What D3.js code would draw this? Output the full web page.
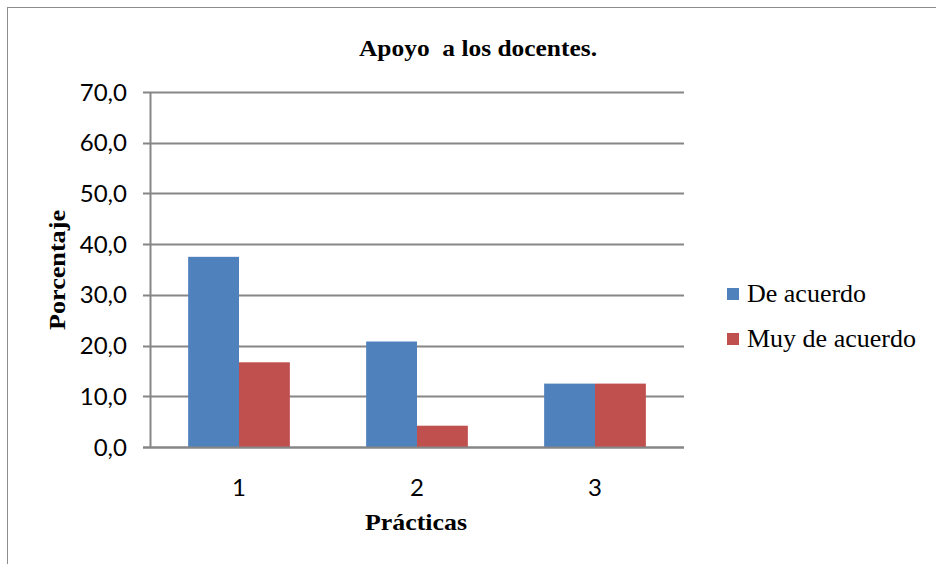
<!DOCTYPE html>
<html>
<head>
<meta charset="utf-8">
<script src="https://cdn.jsdelivr.net/npm/d3@7/dist/d3.min.js"></script>
<style>
  html, body { margin: 0; padding: 0; background: #fff; }
  svg { display: block; }
</style>
</head>
<body>
<script>
// Chart data
const categories = ["1", "2", "3"];
const seriesNames = ["De acuerdo", "Muy de acuerdo"];
const deAcuerdo = [37.5, 20.8, 12.5];
const muyDeAcuerdo = [16.7, 4.2, 12.5];
const yTicks = [0, 10, 20, 30, 40, 50, 60, 70];
const colors = ["#4F81BD", "#C0504D"];

const W = 936, H = 564;
const svg = d3.select("body").append("svg").attr("width", W).attr("height", H);

// Outer chart frame
svg.append("rect")
  .attr("x", 7.5).attr("y", 7.5)
  .attr("width", 960).attr("height", 600)
  .attr("fill", "#fff").attr("stroke", "#8c8c8c").attr("stroke-width", 1);

const plot = { left: 150, right: 684, top: 92, bottom: 447 };

const x0 = d3.scaleBand().domain(categories).range([plot.left, plot.right]).padding(0);
const x1 = d3.scaleBand().domain(seriesNames).range([0, x0.bandwidth()])
  .paddingInner(0).paddingOuter(0.75);
const y = d3.scaleLinear().domain([0, 70]).range([plot.bottom, plot.top]);

const fmt = v => d3.format(".1f")(v).replace(".", ",");
const gridColor = "#868686";

// Horizontal gridlines with left tick marks
svg.append("g").selectAll("line").data(yTicks).join("line")
  .attr("x1", plot.left - 7).attr("x2", plot.right)
  .attr("y1", d => Math.round(y(d)) + 0.5).attr("y2", d => Math.round(y(d)) + 0.5)
  .attr("stroke", gridColor).attr("stroke-width", 2);

// Bars
const rows = categories.map((c, i) => ({ cat: c, vals: [deAcuerdo[i], muyDeAcuerdo[i]] }));
const groups = svg.append("g").selectAll("g").data(rows).join("g")
  .attr("transform", d => `translate(${x0(d.cat)},0)`);
groups.selectAll("rect").data(d => d.vals.map((v, j) => ({ v, j }))).join("rect")
  .attr("x", d => x1(seriesNames[d.j]))
  .attr("width", x1.bandwidth())
  .attr("y", d => y(d.v))
  .attr("height", d => y(0) - y(d.v))
  .attr("fill", d => colors[d.j]);

// Axis lines
svg.append("line")
  .attr("x1", plot.left + 0.5).attr("x2", plot.left + 0.5)
  .attr("y1", plot.top).attr("y2", plot.bottom + 1)
  .attr("stroke", gridColor).attr("stroke-width", 2);
svg.append("line")
  .attr("x1", plot.left - 7).attr("x2", plot.right)
  .attr("y1", Math.round(y(0)) + 0.5).attr("y2", Math.round(y(0)) + 0.5)
  .attr("stroke", gridColor).attr("stroke-width", 2);

// Y tick labels
svg.append("g").selectAll("text").data(yTicks).join("text")
  .attr("x", 127).attr("y", d => y(d))
  .attr("dy", "0.36em")
  .attr("text-anchor", "end")
  .attr("font-family", "Lato, 'Open Sans', sans-serif")
  .attr("font-size", 24)
  .attr("fill", "#000")
  .text(fmt);

// Category labels
svg.append("g").selectAll("text").data(categories).join("text")
  .attr("x", d => x0(d) + x0.bandwidth() / 2).attr("y", 487)
  .attr("dy", "0.36em")
  .attr("text-anchor", "middle")
  .attr("font-family", "Lato, 'Open Sans', sans-serif")
  .attr("font-size", 24)
  .attr("fill", "#000")
  .text(d => d);

const serif = "'Liberation Serif', 'Times New Roman', serif";

// Title
svg.append("text")
  .attr("x", 478).attr("y", 56)
  .attr("text-anchor", "middle")
  .attr("font-family", serif).attr("font-weight", "bold").attr("font-size", 24)
  .attr("textLength", 238).attr("lengthAdjust", "spacingAndGlyphs")
  .style("white-space", "pre")
  .text("Apoyo  a los docentes.");

// Axis titles
svg.append("text")
  .attr("transform", "translate(65,270) rotate(-90)")
  .attr("text-anchor", "middle")
  .attr("font-family", serif).attr("font-weight", "bold").attr("font-size", 24)
  .attr("textLength", 120).attr("lengthAdjust", "spacingAndGlyphs")
  .text("Porcentaje");

svg.append("text")
  .attr("x", 416).attr("y", 530)
  .attr("text-anchor", "middle")
  .attr("font-family", serif).attr("font-weight", "bold").attr("font-size", 24)
  .attr("textLength", 102).attr("lengthAdjust", "spacingAndGlyphs")
  .text("Prácticas");

// Legend
const legend = svg.append("g").selectAll("g").data(seriesNames).join("g")
  .attr("transform", (d, i) => `translate(727,${294 + i * 45})`);
legend.append("rect")
  .attr("x", 0).attr("y", -6).attr("width", 12).attr("height", 12)
  .attr("fill", (d, i) => colors[i]);
legend.append("text")
  .attr("x", 20).attr("y", 8)
  .attr("font-family", serif).attr("font-size", 26)
  .attr("fill", "#000")
  .text(d => d);
</script>
</body>
</html>
